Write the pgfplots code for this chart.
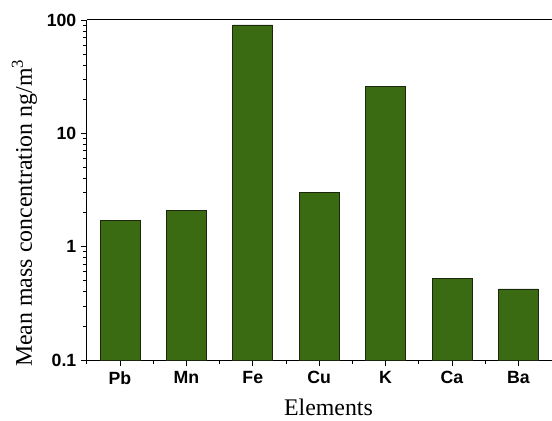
\documentclass[border=0pt]{standalone}
\usepackage{pgfplots}
\pgfplotsset{compat=1.18}
\usepackage{fontspec}
\setmainfont{Liberation Serif}
\setsansfont{Liberation Sans}
\definecolor{barfill}{RGB}{58,106,18}
\definecolor{baredge}{RGB}{28,40,14}
\begin{document}
\begin{tikzpicture}[x=1bp,y=1bp]
\begin{axis}[
  at={(0,0)}, anchor=south west,
  scale only axis,
  width=466bp, height=341bp,
  axis x line*=box, axis y line*=left,
  y axis line style={-},
  x axis line style={-},
  ymode=log, log origin y=infty,
  ymin=0.1, ymax=100,
  xmin=-0.5, xmax=6.5,
  xtick={0,1,2,3,4,5,6},
  xticklabels={Pb,Mn,Fe,Cu,K,Ca,Ba},
  minor xtick={-0.5,0.5,1.5,2.5,3.5,4.5,5.5},
  xtick pos=left,
  ytick={0.1,1,10,100},
  yticklabels={0.1,1,10,100},
  tick align=outside,
  major tick length=6bp,
  minor tick length=4bp,
  every tick/.style={black, line width=0.8pt},
  axis line style={line width=0.9pt},
  /pgf/number format/assume math mode=true,
  ticklabel style={font=\fontsize{17.8}{20}\selectfont\sffamily\bfseries},
  xticklabel style={yshift=-2bp},
  yticklabel style={xshift=-1bp},
  xlabel={Elements},
  ylabel={Mean mass concentration ng/m\textsuperscript{3}},
  label style={font=\fontsize{24}{28}\selectfont},
  xlabel style={at={(axis description cs:0.52,-0.164)}, anchor=base},
  ylabel style={at={(axis description cs:-0.118,0.432)}, anchor=base},
  ybar, bar width=40bp,
]
\addplot[fill=barfill, draw=baredge, line width=0.8pt] coordinates {
  (0,1.69) (1,2.10) (2,90.3) (3,2.99) (4,25.7) (5,0.527) (6,0.424)
};
\end{axis}
\useasboundingbox (-87,-61) rectangle (465,361);
\end{tikzpicture}
\end{document}
